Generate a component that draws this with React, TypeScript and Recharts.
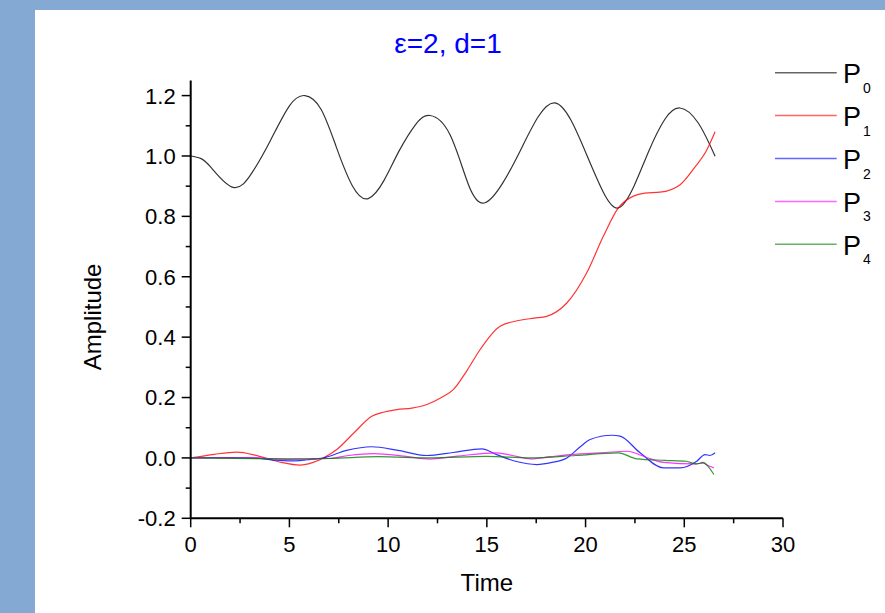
import React from 'react';
import { LineChart, Line, XAxis, YAxis, Legend, Label } from 'recharts';

const FONT = '"Liberation Sans", Arial, Helvetica, sans-serif';

const p0Time = [0, 0.5, 1.06, 2.15, 3.1, 4.02, 5.0, 5.79, 6.6, 7.39, 8.2, 8.99, 9.8, 10.55, 11.4, 12.12, 13.13, 14.1, 14.91, 15.8, 16.68, 17.6, 18.45, 19.25, 20.05, 20.9, 21.66, 22.45, 23.2, 24.0, 24.78, 25.7, 26.56];
const p0Value = [1.0, 0.992, 0.96, 0.896, 0.944, 1.049, 1.166, 1.2, 1.155, 1.027, 0.9, 0.859, 0.92, 1.016, 1.105, 1.134, 1.071, 0.9, 0.845, 0.91, 1.016, 1.13, 1.176, 1.12, 1.005, 0.88, 0.828, 0.9, 1.016, 1.12, 1.159, 1.11, 0.999];

const p1Time = [0, 1.2, 2.33, 3.2, 3.76, 4.6, 5.54, 6.2, 6.72, 7.4, 8.3, 9.17, 9.8, 10.44, 11.2, 11.96, 12.7, 13.3, 14.0, 14.66, 15.67, 16.68, 17.4, 18.03, 19.05, 20.06, 20.9, 21.66, 22.42, 23.0, 23.77, 24.79, 25.5, 26.14, 26.56];
const p1Value = [0, 0.012, 0.019, 0.01, 0, -0.015, -0.024, -0.015, 0, 0.028, 0.085, 0.138, 0.152, 0.16, 0.165, 0.177, 0.2, 0.226, 0.29, 0.359, 0.436, 0.456, 0.463, 0.469, 0.513, 0.613, 0.734, 0.828, 0.867, 0.877, 0.88, 0.905, 0.96, 1.02, 1.08];

const p2Time = [0, 2, 3.17, 4.2, 5.03, 5.9, 6.72, 7.9, 9.17, 10.5, 11.95, 13.3, 14.74, 15.5, 16.5, 17.53, 18.3, 19.05, 19.7, 20.23, 21.33, 21.75, 22.76, 23.94, 24.79, 25.63, 26.05, 26.3, 26.56];
const p2Value = [0, 0.001, 0, -0.007, -0.01, -0.006, 0, 0.025, 0.037, 0.025, 0.008, 0.018, 0.03, 0.011, -0.012, -0.022, -0.015, 0, 0.035, 0.061, 0.075, 0.072, 0.017, -0.033, -0.033, -0.011, 0.011, 0.008, 0.017];

const p3Time = [0, 3, 5, 7, 8, 9.25, 10.8, 12.1, 13.5, 15.5, 16.3, 17.2, 18.2, 19.2, 21, 22.1, 23.0, 23.94, 25.6, 25.95, 26.2, 26.5];
const p3Value = [0, 0, -0.005, -0.002, 0.008, 0.014, 0.006, -0.004, 0.006, 0.017, 0.008, -0.003, 0.004, 0.011, 0.018, 0.022, 0.004, -0.015, -0.02, -0.017, -0.025, -0.033];

const p4Time = [0, 5, 7, 9.5, 12.1, 15, 17.2, 19.5, 21.66, 22.6, 24, 25.1, 25.6, 25.95, 26.2, 26.5];
const p4Value = [0, -0.003, -0.002, 0.004, 0, 0.005, 0, 0.008, 0.017, -0.003, -0.008, -0.011, -0.02, -0.015, -0.028, -0.055];

const seriesNames = ['P0', 'P1', 'P2', 'P3', 'P4'];
const seriesColors = ['#000000', '#ff0000', '#0000ff', '#ff00ff', '#008000'];
const seriesCurves = ['natural', 'monotone', 'monotone', 'monotone', 'monotone'];
const xTicks = [0, 2.5, 5, 7.5, 10, 12.5, 15, 17.5, 20, 22.5, 25, 27.5, 30];
const yTicks = [-0.2, -0.1, 0, 0.1, 0.2, 0.3, 0.4, 0.5, 0.6, 0.7, 0.8, 0.9, 1.0, 1.1, 1.2];
const titleText = 'ε=2, d=1';
const xLabel = 'Time';
const yLabel = 'Amplitude';

const toData = (ts: number[], vs: number[]) => ts.map((t, i) => ({ t, v: vs[i] }));
const seriesData = [
  toData(p0Time, p0Value),
  toData(p1Time, p1Value),
  toData(p2Time, p2Value),
  toData(p3Time, p3Value),
  toData(p4Time, p4Value),
];

const XTick = (props: any) => {
  const { x, y, payload } = props;
  const v = payload.value as number;
  const major = Math.abs(v / 5 - Math.round(v / 5)) < 1e-6;
  return (
    <g>
      <line x1={x} x2={x} y1={y} y2={y + (major ? 9 : 5)} stroke="#000" strokeWidth={1.5} />
      {major && (
        <text x={x} y={y + 34} textAnchor="middle" fontSize={22} fontFamily={FONT} fill="#000">
          {String(v)}
        </text>
      )}
    </g>
  );
};

const YTick = (props: any) => {
  const { x, y, payload } = props;
  const v = payload.value as number;
  const major = Math.abs(v * 5 - Math.round(v * 5)) < 1e-6;
  return (
    <g>
      <line x1={x - (major ? 9 : 5)} x2={x} y1={y} y2={y} stroke="#000" strokeWidth={1.5} />
      {major && (
        <text x={x - 15} y={y} dy="0.36em" textAnchor="end" fontSize={22} fontFamily={FONT} fill="#000">
          {v.toFixed(1)}
        </text>
      )}
    </g>
  );
};

const YLabelContent = (props: any) => {
  const { viewBox } = props;
  const cx = viewBox.x - 30;
  const cy = viewBox.y + viewBox.height * 0.54;
  return (
    <text x={cx} y={cy} transform={`rotate(-90, ${cx}, ${cy})`} textAnchor="middle" fontSize={24} fontFamily={FONT} fill="#000">
      {yLabel}
    </text>
  );
};

const LegendContent = (props: any) => {
  const { payload } = props;
  const rowH = 42.9;
  return (
    <svg width={115} height={230} style={{ overflow: 'visible', display: 'block' }}>
      {(payload || []).map((entry: any, i: number) => {
        const ly = 22.7 + i * rowH;
        const name = String(entry.value);
        return (
          <g key={name}>
            <line x1={5} x2={66.7} y1={ly} y2={ly} stroke={entry.color} strokeWidth={1.5} opacity={0.6} />
            <text x={73} y={ly + 10.6} fontSize={27} fontFamily={FONT} fill="#000">
              {name.slice(0, 1)}
            </text>
            <text x={93} y={ly + 20} fontSize={14} fontFamily={FONT} fill="#000">
              {name.slice(1)}
            </text>
          </g>
        );
      })}
    </svg>
  );
};

export default function App() {
  return (
    <div style={{ position: 'absolute', left: 0, top: 0, width: 885, height: 613, background: '#84a9d3', overflow: 'hidden' }}>
      <div style={{ position: 'absolute', left: 35, top: 10, width: 850, height: 603, background: '#ffffff' }} />
      <div style={{ position: 'absolute', left: 0, top: 0 }}>
        <LineChart width={885} height={613} margin={{ top: 80.5, right: 102, bottom: 19.7, left: 130.7 }}>
          <XAxis
            dataKey="t"
            type="number"
            domain={[0, 30]}
            ticks={xTicks}
            interval={0}
            height={75}
            tickSize={0}
            tickMargin={0}
            tick={<XTick />}
            tickLine={false}
            axisLine={{ stroke: '#000', strokeWidth: 2 }}
            allowDataOverflow
          >
            <Label value={xLabel} position="insideBottom" offset={2} style={{ fontSize: 24, fontFamily: FONT, fill: '#000' }} />
          </XAxis>
          <YAxis
            type="number"
            domain={[-0.2, 1.25]}
            ticks={yTicks}
            interval={0}
            width={60}
            tickSize={0}
            tickMargin={0}
            tick={<YTick />}
            tickLine={false}
            axisLine={{ stroke: '#000', strokeWidth: 2 }}
            allowDataOverflow
          >
            <Label content={<YLabelContent />} />
          </YAxis>
          <Legend
            content={<LegendContent />}
            layout="vertical"
            align="right"
            verticalAlign="top"
            wrapperStyle={{ position: 'absolute', left: 770, top: 50, width: 0, height: 0, overflow: 'visible' }}
          />
          {seriesData.map((d, i) => (
            <Line
              key={seriesNames[i]}
              data={d}
              dataKey="v"
              name={seriesNames[i]}
              stroke={seriesColors[i]}
              strokeWidth={1.2}
              strokeOpacity={0.8}
              dot={false}
              activeDot={false}
              type={seriesCurves[i] as any}
              isAnimationActive={false}
            />
          ))}
        </LineChart>
      </div>
      <svg width={885} height={70} style={{ position: 'absolute', left: 0, top: 0, pointerEvents: 'none' }}>
        <text x={448} y={53} textAnchor="middle" fontSize={28} fontFamily={FONT} fill="#0000ff">
          {titleText}
        </text>
      </svg>
    </div>
  );
}
